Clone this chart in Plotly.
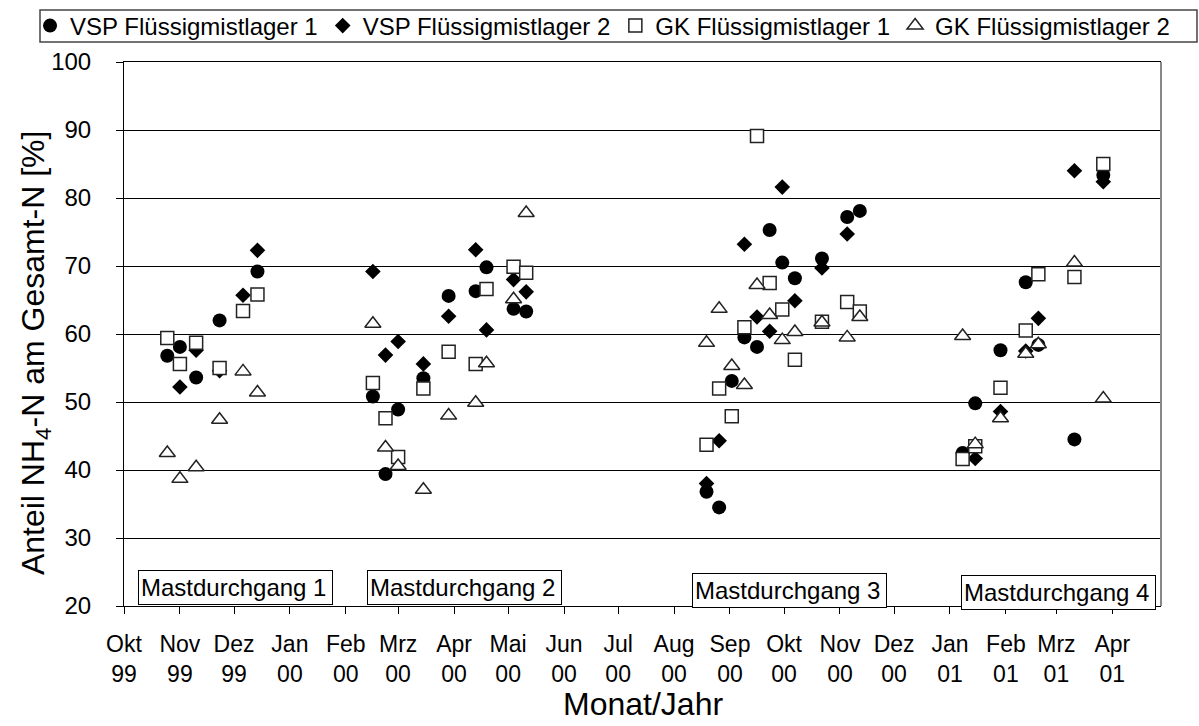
import plotly.graph_objects as go

# Sampling dates (four fattening periods)
dates = [
    "1999-10-25", "1999-11-01", "1999-11-10", "1999-11-23", "1999-12-06", "1999-12-14",
    "2000-02-16", "2000-02-23", "2000-03-01", "2000-03-15", "2000-03-29", "2000-04-13",
    "2000-04-19", "2000-05-04", "2000-05-11",
    "2000-08-19", "2000-08-26", "2000-09-02", "2000-09-09", "2000-09-16", "2000-09-23",
    "2000-09-30", "2000-10-07", "2000-10-22", "2000-11-05", "2000-11-12",
    "2001-01-08", "2001-01-15", "2001-01-29", "2001-02-12", "2001-02-19", "2001-03-11",
    "2001-03-27",
]

# Share of NH4-N in total N [%]
vsp_lager1 = [
    56.8, 58.1, 53.6, 62.0, None, 69.2,
    50.8, 39.4, 48.9, 53.5, 65.6, 66.3, 69.8, 63.7, 63.3,
    36.8, 34.5, 53.1, 59.5, 58.1, 75.3, 70.5, 68.2, 71.1, 77.2, 78.1,
    42.5, 49.8, 57.6, 67.6, 58.4, 44.5, 83.4,
]
vsp_lager2 = [
    None, 52.2, 57.6, 54.6, 65.7, 72.3,
    69.2, 56.9, 58.9, 55.6, 62.6, 72.4, 60.6, 68.0, 66.2,
    38.0, 44.3, None, 73.2, 62.5, 60.4, 81.6, 64.9, 69.7, 74.7, None,
    None, 41.7, 48.6, 57.5, 62.3, 84.0, 82.4,
]
gk_lager1 = [
    59.4, 55.6, 58.7, 55.0, 63.4, 65.8,
    52.8, 47.6, 41.9, 52.0, 57.4, 55.6, 66.6, 69.9, 69.0,
    43.7, 52.0, 47.9, 61.0, 89.1, 67.5, 63.6, 56.2, 61.8, 64.7, 63.3,
    41.6, 43.5, 52.1, 60.5, 68.8, 68.4, 85.0,
]
gk_lager2 = [
    42.5, 38.7, 40.4, 47.4, 54.5, 51.4,
    61.5, 43.3, 40.6, 37.1, 48.0, 49.9, 55.7, 65.1, 77.8,
    58.7, 63.7, 55.3, 52.5, 67.2, 62.8, 59.1, 60.3, 61.7, 59.5, 62.5,
    59.7, 43.8, 47.6, 57.1, 58.5, 70.5, 50.5,
]

series_names = [
    "VSP Flüssigmistlager 1",
    "VSP Flüssigmistlager 2",
    "GK Flüssigmistlager 1",
    "GK Flüssigmistlager 2",
]

# Month axis
month_starts = [
    "1999-10-01", "1999-11-01", "1999-12-01", "2000-01-01", "2000-02-01", "2000-03-01",
    "2000-04-01", "2000-05-01", "2000-06-01", "2000-07-01", "2000-08-01", "2000-09-01",
    "2000-10-01", "2000-11-01", "2000-12-01", "2001-01-01", "2001-02-01", "2001-03-01",
    "2001-04-01",
]
month_labels = [
    "Okt<br>99", "Nov<br>99", "Dez<br>99", "Jan<br>00", "Feb<br>00", "Mrz<br>00",
    "Apr<br>00", "Mai<br>00", "Jun<br>00", "Jul<br>00", "Aug<br>00", "Sep<br>00",
    "Okt<br>00", "Nov<br>00", "Dez<br>00", "Jan<br>01", "Feb<br>01", "Mrz<br>01",
    "Apr<br>01",
]

# Period labels
period_texts = ["Mastdurchgang 1", "Mastdurchgang 2", "Mastdurchgang 3", "Mastdurchgang 4"]
period_x = ["1999-12-02", "2000-04-07", "2000-10-04", "2001-03-02"]
period_y = [22.7, 22.7, 22.3, 22.0]

x_title = "Monat/Jahr"
y_title = "Anteil NH<sub>4</sub>-N am Gesamt-N [%]"

FONT = "Liberation Sans, Arial, sans-serif"

styles = [
    dict(symbol="circle", size=14, color="black", line=dict(width=0)),
    dict(symbol="diamond", size=12, color="black", line=dict(width=0)),
    dict(symbol="square", size=13, color="white", line=dict(color="#222222", width=1.5)),
    dict(symbol="triangle-up", size=14, color="white", line=dict(color="#222222", width=1.5)),
]

fig = go.Figure()
for name, vals, st in zip(series_names, [vsp_lager1, vsp_lager2, gk_lager1, gk_lager2], styles):
    fig.add_trace(go.Scatter(
        x=dates, y=vals, mode="markers", name=name,
        marker=st, cliponaxis=False,
    ))

for txt, px, py in zip(period_texts, period_x, period_y):
    fig.add_annotation(
        x=px, y=py, xref="x", yref="y", text=txt, showarrow=False,
        font=dict(family=FONT, size=24, color="black"),
        bordercolor="black", borderwidth=1, borderpad=2, bgcolor="white",
        width=189, height=29, align="left",
    )

# Axis titles
fig.add_annotation(
    x=0.5, y=-0.180, xref="paper", yref="paper", text=x_title, showarrow=False,
    xanchor="center", yanchor="middle",
    font=dict(family=FONT, size=32, color="black"),
)
fig.add_annotation(
    x=-0.0858, y=0.465, xref="paper", yref="paper", text=y_title, showarrow=False,
    xanchor="center", yanchor="middle", textangle=-90,
    font=dict(family=FONT, size=32, color="black"),
)

# Frame around the legend row
fig.add_shape(type="rect", xref="paper", yref="paper",
              x0=-0.0810, x1=1.0347, y0=1.0368, y1=1.0956,
              line=dict(color="#444444", width=1.5), fillcolor="rgba(0,0,0,0)")

# Grey right-hand frame of the plot area
fig.add_shape(type="line", xref="paper", yref="paper", x0=1, x1=1, y0=0, y1=1,
              line=dict(color="#888888", width=2))

fig.update_layout(
    width=1199, height=726,
    margin=dict(l=124, r=38, t=62, b=120, autoexpand=False),
    paper_bgcolor="white", plot_bgcolor="white",
    font=dict(family=FONT, size=24, color="black"),
    showlegend=True,
    legend=dict(
        orientation="h", x=-0.0906, xanchor="left", y=1.0662, yanchor="middle",
        borderwidth=0, bgcolor="rgba(0,0,0,0)",
        font=dict(family=FONT, size=24, color="black"),
        itemwidth=30, tracegroupgap=0,
    ),
    xaxis=dict(
        type="date", range=["1999-10-01", "2001-04-28"],
        tickmode="array", tickvals=month_starts, ticktext=month_labels,
        ticks="outside", ticklen=7, tickcolor="black", tickwidth=1,
        showline=True, linecolor="black", linewidth=1, mirror=True,
        showgrid=False, zeroline=False,
        tickfont=dict(family=FONT, size=23, color="black"),
        ticklabelstandoff=10,
    ),
    yaxis=dict(
        range=[20, 100], dtick=10, tick0=0,
        ticks="outside", ticklen=7, tickcolor="black", tickwidth=1,
        showline=True, linecolor="black", linewidth=1,
        showgrid=True, gridcolor="black", gridwidth=1, zeroline=False,
        tickfont=dict(family=FONT, size=24, color="black"),
        ticklabelstandoff=20,
    ),
)

fig.write_html("out.html")
